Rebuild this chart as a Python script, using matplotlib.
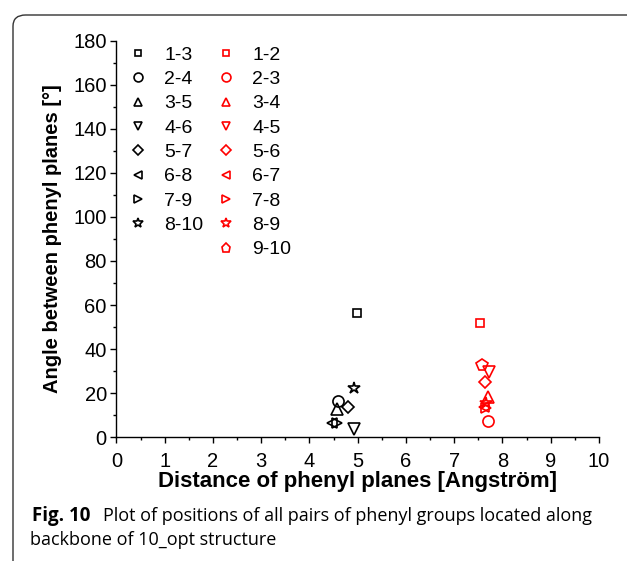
import numpy as np
import matplotlib
matplotlib.use('Agg')
import matplotlib.pyplot as plt
from matplotlib.lines import Line2D
from matplotlib.patches import FancyBboxPatch

plt.rcParams['font.family'] = ['Liberation Sans', 'DejaVu Sans']

# black series: pairs i-(i+2)
black_labels = ['1-3', '2-4', '3-5', '4-6', '5-7', '6-8', '7-9', '8-10']
black_x = [4.99, 4.59, 4.57, 4.93, 4.80, 4.47, 4.58, 4.92]
black_y = [56.5, 16.5, 12.8, 3.6, 13.6, 6.6, 6.6, 22.2]

# red series: neighbouring pairs i-(i+1)
red_labels = ['1-2', '2-3', '3-4', '4-5', '5-6', '6-7', '7-8', '8-9', '9-10']
red_x = [7.53, 7.71, 7.70, 7.72, 7.64, 7.61, 7.66, 7.66, 7.57]
red_y = [51.9, 7.4, 18.1, 29.5, 25.3, 13.6, 13.2, 15.4, 32.8]

markers = ['s', 'o', '^', 'v', 'D', '<', '>', '*', 'p']
msizes = {'s': 6, 'o': 8, '^': 8, 'v': 8, 'D': 6.5, '<': 7.5, '>': 7.5, '*': 9, 'p': 8.5}

fig = plt.figure(figsize=(6.27, 5.61), dpi=100)
ax = fig.add_axes([0.1858, 0.2205, 0.7695, 0.7073])

handles = []
for i, lab in enumerate(black_labels):
    m = markers[i]
    h, = ax.plot(black_x[i], black_y[i], linestyle='none', marker=m, ms=msizes[m],
                 mfc='none', mec='black', mew=1.2, label=lab)
    handles.append(h)
# empty slot so the red entries start a new column
handles.append(Line2D([], [], linestyle='none', label=''))
for i, lab in enumerate(red_labels):
    m = markers[i]
    h, = ax.plot(red_x[i], red_y[i], linestyle='none', marker=m, ms=msizes[m],
                 mfc='none', mec='red', mew=1.2, label=lab)
    handles.append(h)

ax.set_xlim(0, 10)
ax.set_ylim(0, 180)
ax.set_xticks(np.arange(0, 11, 1))
ax.set_xticks(np.arange(0, 10.5, 0.5), minor=True)
ax.set_yticks(np.arange(0, 181, 20))
ax.set_yticks(np.arange(0, 181, 10), minor=True)
ax.spines['top'].set_visible(False)
ax.spines['right'].set_visible(False)
for s in ['left', 'bottom']:
    ax.spines[s].set_linewidth(1.0)
ax.tick_params(which='major', direction='out', length=4, width=1, labelsize=14.5, pad=3)
ax.tick_params(axis='x', which='major', pad=6.5)
ax.tick_params(which='minor', direction='out', length=2.2, width=1)

ax.set_xlabel('Distance of phenyl planes [Angström]', fontsize=16, fontweight='bold', labelpad=0)
ax.set_ylabel('Angle between phenyl planes [°]', fontsize=14.5, fontweight='bold', labelpad=8)

leg = ax.legend(handles=handles, labels=[h.get_label() for h in handles], ncol=2,
                loc='upper left', bbox_to_anchor=(-0.004, 1.02), frameon=False,
                fontsize=14, markerscale=0.8, handlelength=1.0, handletextpad=0.85,
                columnspacing=0.68, labelspacing=0.345, borderaxespad=0.3)

# rounded frame of the figure panel
frame = FancyBboxPatch((13 / 627, -0.1), 1.2, (561 - 15) / 561 + 0.1,
                       boxstyle='round,pad=0,rounding_size=0.02',
                       transform=fig.transFigure, fill=False, ec='#333333', lw=1.0)
fig.patches.append(frame)

# caption
cap_font = ['Open Sans', 'DejaVu Sans']
fig.text(32 / 627, 1 - 516 / 561, 'Fig. 10', fontsize=13.5, fontweight='bold',
         family=cap_font, va='center', ha='left')
fig.text(103 / 627, 1 - 516 / 561,
         'Plot of positions of all pairs of phenyl groups located along',
         fontsize=13.0, family=cap_font, va='center', ha='left')
fig.text(30 / 627, 1 - 540 / 561, 'backbone of 10_opt structure',
         fontsize=13.0, family=cap_font, va='center', ha='left')

fig.savefig('out.png', dpi=100)
